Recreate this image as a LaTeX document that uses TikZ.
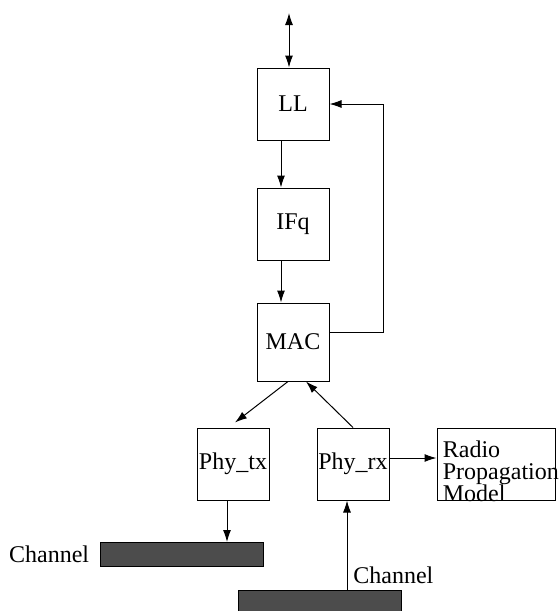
\documentclass[tikz,border=0pt]{standalone}
\usepackage{fontspec}
\setmainfont{Liberation Serif}
\usetikzlibrary{arrows.meta,positioning}
\colorlet{chandark}{black!70}
\tikzset{
  >={Latex[length=6pt,width=4pt]}, % filled arrow heads
  block/.style={draw,line width=0.5pt,minimum width=36pt,minimum height=36pt,inner sep=0pt,
                font=\fontsize{12}{14}\selectfont},
  chan/.style={draw,line width=0.5pt,fill=chandark,minimum width=81.5pt,minimum height=12pt,inner sep=0pt},
  lbl/.style={font=\fontsize{12}{14}\selectfont,inner sep=0pt},
  connect/.style={line width=0.5pt}
}

\begin{document}
\begin{tikzpicture}[x=0.5pt,y=-0.5pt]
\useasboundingbox (0,0) rectangle (559,611);
\path
(293,104) node[block] (LL) {LL}
(293,224) node[block] (IFq) {IFq}
(293,342) node[block,minimum height=39pt] (MAC) {MAC}
(233,464) node[block] (phytx) {Phy\_tx}
(353,464) node[block] (phyrx) {Phy\_rx}
(496,464) node[block,minimum width=59pt] (radio) {}
(181.5,554.5) node[chan] (ch1) {}
(320,602) node[chan] (ch2) {};
\node[lbl,anchor=north west,align=left,font=\fontsize{12}{11}\selectfont]
  (radiotxt) at ([xshift=3pt,yshift=-6.5pt]radio.north west) {Radio\\Propagation\\Model};
\node[lbl,left=5pt of ch1] (ch1lbl) {Channel};
\node[lbl,anchor=base west] (ch2lbl) at ([xshift=16.5pt,yshift=3pt]ch2.north) {Channel};
\coordinate (top) at (289,13);
% links
\draw[connect,<->] (top) -- (top |- LL.north);
\draw[connect,->] ([xshift=-6pt]LL.south) -- ([xshift=-6pt]IFq.north);
\draw[connect,->] ([xshift=-6pt]IFq.south) -- ([xshift=-6pt]MAC.north);
\draw[connect,->] ([yshift=5pt]MAC.east) -- ++(27pt,0) |- (LL.east);
\draw[connect,->] ([xshift=-2.5pt]MAC.south) -- ([xshift=1pt,yshift=2.5pt]phytx.north);
\draw[connect,->] (phyrx.north) -- ([xshift=6.5pt]MAC.south);
\draw[connect,->] ([yshift=3pt]phyrx.east) -- ([yshift=3pt]radio.west);
\draw[connect,->] ([xshift=-3pt]phytx.south) -- ([xshift=-3pt]phytx.south |- ch1.north);
\draw[connect,->] ([xshift=-3pt]phyrx.south |- ch2.north) -- ([xshift=-3pt]phyrx.south);
\end{tikzpicture}
\end{document}
